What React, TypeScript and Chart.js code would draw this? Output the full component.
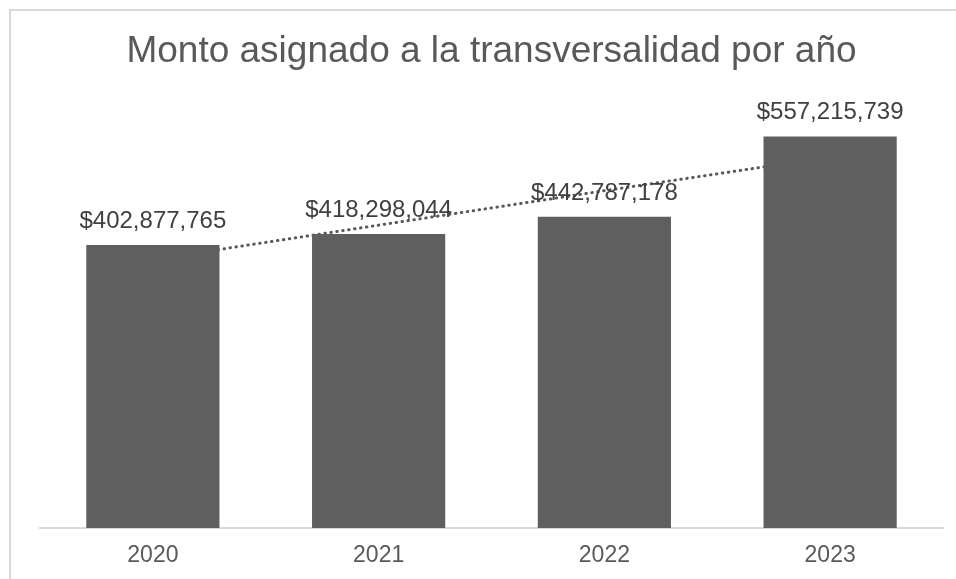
import React, { useEffect, useRef } from "react";
import { Chart, registerables } from "chart.js";

Chart.register(...registerables);

const categories = ["2020", "2021", "2022", "2023"];
const amounts = [402877765, 418298044, 442787178, 557215739];
const amountLabels = ["$402,877,765", "$418,298,044", "$442,787,178", "$557,215,739"];
// dotted linear trendline, values at each category centre
const trendValues = [382000000, 431000000, 480000000, 528000000];
const titleText = "Monto asignado a la transversalidad por año";
const yMin = 0;
const yMax = 600000000;

const FONT = "'Liberation Sans', Arial, sans-serif";

const dataLabelPlugin = {
  id: "dataLabels",
  afterDatasetsDraw(chart: any) {
    const meta = chart.getDatasetMeta(0);
    const ctx = chart.ctx;
    ctx.save();
    ctx.font = `24px ${FONT}`;
    ctx.fillStyle = "#404040";
    ctx.textAlign = "center";
    ctx.textBaseline = "alphabetic";
    meta.data.forEach((bar: any, i: number) => {
      ctx.fillText(amountLabels[i], bar.x, bar.y - 17);
    });
    ctx.restore();
  },
};

export default function App() {
  const ref = useRef<HTMLCanvasElement | null>(null);

  useEffect(() => {
    if (!ref.current) return;
    const chart = new Chart(ref.current, {
      type: "bar",
      data: {
        labels: categories,
        datasets: [
          {
            type: "bar",
            data: amounts,
            backgroundColor: "#5f5f5f",
            borderWidth: 0,
            barPercentage: 0.59,
            categoryPercentage: 1,
            order: 1,
          },
          {
            type: "line",
            data: trendValues,
            borderColor: "#595959",
            borderWidth: 3,
            borderDash: [0.5, 5.5],
            borderCapStyle: "round",
            pointRadius: 0,
            fill: false,
            tension: 0,
            order: 2,
          } as any,
        ],
      },
      options: {
        animation: false,
        responsive: false,
        devicePixelRatio: 1,
        layout: { padding: { left: 40, right: 13, top: 0, bottom: 0 } },
        plugins: {
          legend: { display: false },
          tooltip: { enabled: false },
          title: {
            display: true,
            text: titleText,
            color: "#595959",
            font: { family: FONT, size: 37, weight: "normal" },
            padding: { top: 30, bottom: 32 },
          },
        },
        scales: {
          x: {
            grid: { display: false, drawTicks: false },
            border: { display: true, color: "#d9d9d9", width: 2 },
            ticks: {
              color: "#595959",
              font: { family: FONT, size: 23 },
              padding: 14,
            },
            afterFit: (axis: any) => {
              axis.height = 51;
            },
          },
          y: {
            display: false,
            min: yMin,
            max: yMax,
          },
        },
      },
      plugins: [dataLabelPlugin],
    });
    return () => chart.destroy();
  }, []);

  return (
    <div
      style={{
        position: "absolute",
        left: 0,
        top: 0,
        width: 956,
        height: 579,
        overflow: "hidden",
        background: "#ffffff",
      }}
    >
      <div
        style={{
          position: "absolute",
          left: 9,
          top: 9,
          width: 2000,
          height: 2000,
          borderTop: "2px solid #d9d9d9",
          borderLeft: "2px solid #d9d9d9",
        }}
      />
      <canvas
        ref={ref}
        width={956}
        height={579}
        style={{ position: "absolute", left: 0, top: 0, display: "block" }}
      />
    </div>
  );
}
